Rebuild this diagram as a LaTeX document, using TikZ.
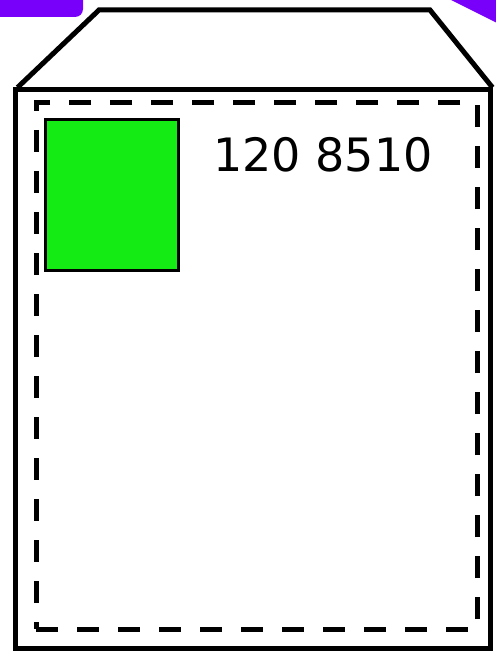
\documentclass[tikz,border=0pt]{standalone}
\usepackage{fontspec}
\setmainfont{DejaVu Sans}
\usepackage{tikz}
\usetikzlibrary{positioning}
\definecolor{stampgreen}{RGB}{20,235,20}
\definecolor{inkviolet}{RGB}{120,0,250}
\tikzset{
  env/.style   ={rectangle, draw, line width=5pt, minimum width=475pt, minimum height=558pt, inner sep=0pt},
  flap/.style  ={draw, line width=5pt, line join=miter},
  seam/.style  ={rectangle, draw, line width=5pt, dash pattern=on 22pt off 19pt, minimum width=441pt, minimum height=526pt, inner sep=0pt},
  stamp/.style ={rectangle, draw, line width=3pt, fill=stampgreen, minimum width=133pt, minimum height=150pt, inner sep=0pt},
  code/.style  ={anchor=base west, inner sep=0pt, font=\fontsize{46}{46}\selectfont},
  smear/.style ={fill=inkviolet, draw=none},
}
\begin{document}
\begin{tikzpicture}[x=1pt, y=-1pt]
  \useasboundingbox (0,0) rectangle (495,652);
  % violet marks at the top
  \fill[smear, rounded corners=8pt] (-12,-12) rectangle (83,17);
  \fill[smear] (447,-2) -- (497,-2) -- (497,23) -- cycle;
  % envelope and flap
  \node[env] (envelope) at (252.5,369) {};
  \coordinate (flapl) at (99,10);
  \coordinate (flapr) at (430,10);
  \draw[flap] ([xshift=5pt]envelope.north west) -- (flapl) -- (flapr) -- (envelope.north east);
  \node[seam] (border) at (256.5,366) {};
  \node[stamp] (stamp) at (111.5,195) {};
  \node[code] (postcode) at (213,172) {120 8510};
\end{tikzpicture}
\end{document}
